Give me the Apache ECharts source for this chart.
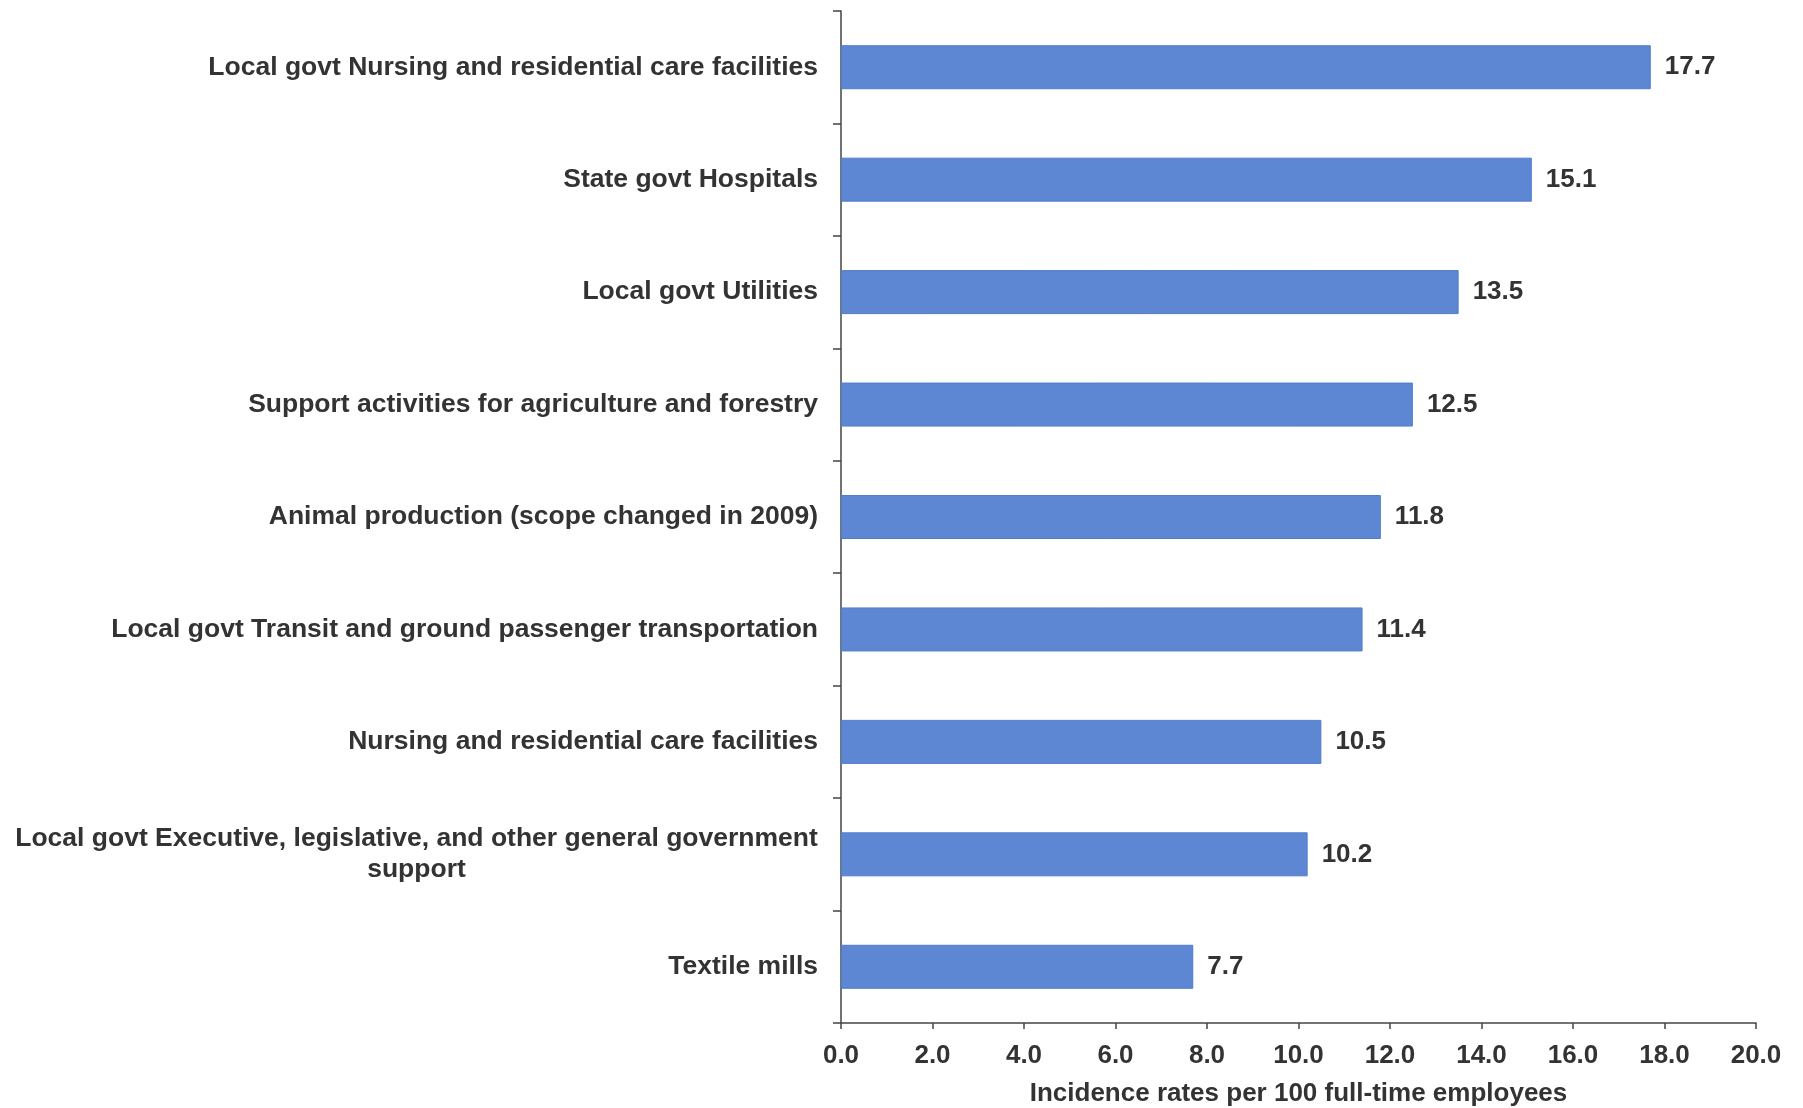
<!DOCTYPE html>
<html>
<head>
<meta charset="utf-8">
<script src="https://cdn.jsdelivr.net/npm/echarts@6/dist/echarts.min.js"></script>
<style>html,body{margin:0;padding:0;background:#fff;}#c{width:1803px;height:1108px;}</style>
</head>
<body>
<div id="c"></div>
<script>
const categories = [
  "Local govt Nursing and residential care facilities",
  "State govt Hospitals",
  "Local govt Utilities",
  "Support activities for agriculture and forestry",
  "Animal production (scope changed in 2009)",
  "Local govt Transit and ground passenger transportation",
  "Nursing and residential care facilities",
  "Local govt Executive, legislative, and other general government\nsupport",
  "Textile mills"
];
const values = [17.7, 15.1, 13.5, 12.5, 11.8, 11.4, 10.5, 10.2, 7.7];
const xAxisName = "Incidence rates per 100 full-time employees";

const FONT = "'Liberation Sans', Arial, sans-serif";
const TXT = '#333333';
const FS = 26;
const FSC = 26.5;

const cv = document.createElement('canvas').getContext('2d');
cv.font = 'bold ' + FSC + 'px ' + FONT;
const w0 = Math.max.apply(null, categories.filter(c => c.includes('\n'))
  .map(c => Math.max.apply(null, c.split('\n').map(l => cv.measureText(l).width))));

const chart = echarts.init(document.getElementById('c'));
chart.setOption({
  backgroundColor: '#ffffff',
  animation: false,
  grid: { left: 841, right: 47, top: 11, bottom: 85, containLabel: false, outerBoundsMode: 'none' },
  xAxis: {
    type: 'value', min: 0, max: 20, interval: 2,
    name: xAxisName, nameLocation: 'middle', nameGap: 58,
    nameTextStyle: { fontFamily: FONT, fontWeight: 'bold', fontSize: FS, color: TXT },
    axisLine: { show: true, lineStyle: { color: '#444', width: 1.5 } },
    axisTick: { show: true, length: 6, lineStyle: { color: '#444', width: 1.5 } },
    axisLabel: { margin: 20, fontFamily: FONT, fontWeight: 'bold', fontSize: FS, color: TXT,
      formatter: v => v.toFixed(1) },
    splitLine: { show: false }
  },
  yAxis: {
    type: 'category', data: categories, inverse: true,
    axisLine: { show: true, lineStyle: { color: '#444', width: 1.5 } },
    axisTick: { show: true, length: 8, lineStyle: { color: '#444', width: 1.5 } },
    axisLabel: {
      margin: 23, fontFamily: FONT, fontWeight: 'bold', fontSize: FSC, color: TXT,
      formatter: function (s) {
        const lines = s.split('\n');
        if (lines.length === 1) return '{a|' + s + '}';
        return lines.map(l => '{c|' + l + '}').join('\n');
      },
      rich: {
        a: { fontFamily: FONT, fontWeight: 'bold', fontSize: FSC, color: TXT },
        c: { fontFamily: FONT, fontWeight: 'bold', fontSize: FSC, color: TXT, align: 'center',
             width: Math.ceil(w0), lineHeight: 31 }
      }
    }
  },
  series: [{
    type: 'bar', data: values, barWidth: 44,
    itemStyle: { color: '#5d87d3', borderColor: '#4f7dcc', borderWidth: 1 },
    label: { show: true, position: 'right', distance: 14,
      fontFamily: FONT, fontWeight: 'bold', fontSize: FS, color: TXT,
      formatter: p => p.value.toFixed(1) }
  }]
});
</script>
</body>
</html>
